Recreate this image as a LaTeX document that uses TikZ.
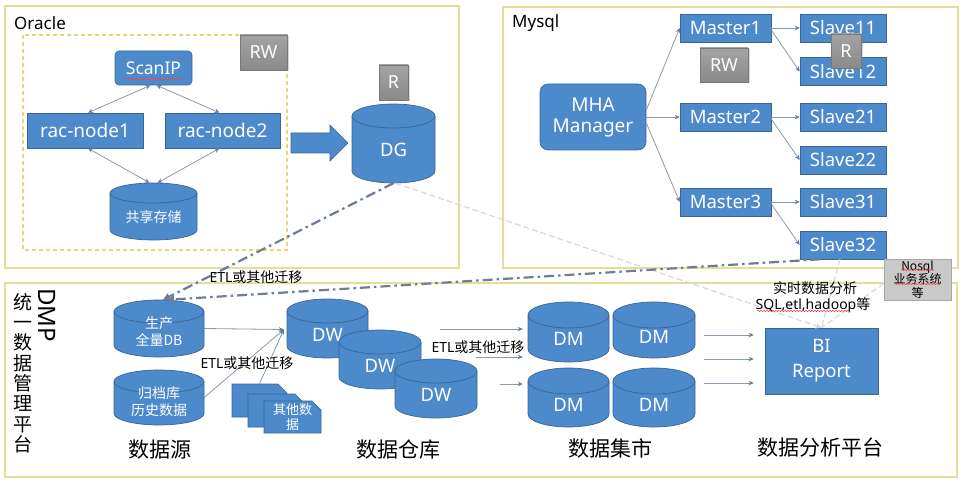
\documentclass[tikz,border=0pt]{standalone}
\usepackage{fontspec}
\setmainfont{Noto Sans}
\newfontfamily\zh{Noto Sans CJK SC}
\usetikzlibrary{arrows.meta,shadows,decorations.pathmorphing}
\definecolor{bfill}{RGB}{76,138,204}
\definecolor{bborder}{RGB}{58,102,150}
\definecolor{frameY}{RGB}{228,222,150}
\definecolor{dashY}{RGB}{232,214,110}
\definecolor{connC}{RGB}{140,152,172}
\definecolor{tipC}{RGB}{95,125,165}
\definecolor{ddC}{RGB}{110,125,150}
\definecolor{paleC}{RGB}{212,216,224}
\newcommand{\dbcyl}[8][]{%
\pgfmathsetmacro\cCX{(#3+#5)/2}%
\pgfmathsetmacro\cCY{(#4+#6)/2}%
\pgfmathsetmacro\cW{#5-#3}%
\pgfmathsetmacro\cH{#6-#4}%
\pgfmathsetmacro\cKX{0.5523*(#5-#3)/2}%
\pgfmathsetmacro\cKY{0.5523*#7}%
\pgfmathsetmacro\cTY{#4+#7}%
\pgfmathsetmacro\cBY{#6-#7}%
\pgfmathsetmacro\cLY{#4+2*#7}%
\pgfmathsetmacro\cTXY{(#4+#6)/2+0.55*#7}%
\path[cylbody] (#3,\cTY) -- (#3,\cBY) .. controls (#3,\cBY+\cKY) and (\cCX-\cKX,#6) .. (\cCX,#6) .. controls (\cCX+\cKX,#6) and (#5,\cBY+\cKY) .. (#5,\cBY) -- (#5,\cTY) .. controls (#5,\cTY-\cKY) and (\cCX+\cKX,#4) .. (\cCX,#4) .. controls (\cCX-\cKX,#4) and (#3,\cTY-\cKY) .. (#3,\cTY) -- cycle;
\path[cyllid] (#3,\cTY) .. controls (#3,\cTY+\cKY) and (\cCX-\cKX,\cLY) .. (\cCX,\cLY) .. controls (\cCX+\cKX,\cLY) and (#5,\cTY+\cKY) .. (#5,\cTY);
\node[inner sep=0pt, minimum width=\cW pt, minimum height=\cH pt] (#2) at (\cCX,\cCY) {};
\node[cyltext,#1] (#2-t) at (\cCX,\cTXY) {#8};
}
\newcommand{\snipbox}[7][]{%
\pgfmathsetmacro\sCX{(#3+#5)/2}%
\pgfmathsetmacro\sCY{(#4+#6)/2}%
\pgfmathsetmacro\sW{#5-#3}%
\pgfmathsetmacro\sH{#6-#4}%
\path[cylbody] (#3,#4) -- (#5-9,#4) -- (#5,#4+9) -- (#5,#6) -- (#3,#6) -- cycle;
\node[cyltext, minimum width=\sW pt, minimum height=\sH pt, #1] (#2) at (\sCX,\sCY) {#7};
}
\begin{document}
\begin{tikzpicture}[x=1pt,y=-1pt,
  frame/.style={draw=frameY, line width=1.3pt},
  bluebox/.style={draw=bborder, line width=0.6pt, fill=bfill, text=white, inner sep=0pt, font=\fontsize{18.5}{22}\selectfont},
  cylbody/.style={draw=bborder, line width=0.7pt, fill=bfill},
  cyllid/.style={draw=bborder, line width=0.7pt},
  cyltext/.style={text=white, inner sep=0pt, align=center, font=\fontsize{18.5}{22}\selectfont},
  zhs/.style={font=\zh\fontsize{14}{17}\selectfont},
  graylab/.style={draw=gray!95!black, top color=gray!72, bottom color=gray!92, text=white, inner sep=0pt, font=\fontsize{18}{20}\selectfont, drop shadow={opacity=0.3, shadow xshift=1.5pt, shadow yshift=-1.5pt}},
  conn/.style={draw=connC, line width=0.8pt, -{Stealth[length=5pt,width=4.5pt,color=tipC]}},
  biconn/.style={draw=connC, line width=0.8pt, {Stealth[length=5pt,width=4.5pt,color=tipC]}-{Stealth[length=5pt,width=4.5pt,color=tipC]}},
  ddash/.style={draw=ddC, line width=2.2pt, dash pattern=on 10pt off 4pt on 2.5pt off 4pt},
  paleline/.style={draw=paleC, line width=1.2pt, dash pattern=on 6pt off 3pt},
  wavy/.style={draw=red!75, line width=0.5pt, decorate, decoration={snake, amplitude=0.7pt, segment length=3pt}},
  lab/.style={text=black, inner sep=0pt}
]
\useasboundingbox (0,0) rectangle (968,489);
\fill[white] (0,0) rectangle (968,489);

% frames
\draw[frame] (5,6) rectangle (459,268);
\draw[frame] (503,7) rectangle (958,268);
\draw[frame] (5,283) rectangle (957,477);
\draw[dashY, line width=1.1pt, dash pattern=on 4pt off 3pt] (23,35) rectangle (287,250);

\node[lab, anchor=base west, font=\fontsize{17}{20}\selectfont] (oraclelab) at (14,30) {Oracle};
\node[lab, anchor=base west, font=\fontsize{17}{20}\selectfont] (mysqllab) at (512,28) {Mysql};

% Oracle cluster
\node[bluebox, rounded corners=4pt, minimum width=77pt, minimum height=34pt, font=\fontsize{17.5}{20}\selectfont] (scan) at (153.5,68) {ScanIP};
\draw[wavy] (126,79) -- (181,79);
\node[bluebox, minimum width=116pt, minimum height=35pt, font=\fontsize{19}{22}\selectfont] (rac1) at (85,130.5) {rac-node1};
\node[bluebox, minimum width=115pt, minimum height=35pt, font=\fontsize{19}{22}\selectfont] (rac2) at (222.5,130.5) {rac-node2};
\dbcyl[zhs]{store}{110}{183}{197}{240}{10}{共享存储}
\draw[biconn] ([xshift=-3pt]scan.south) -- ([xshift=3pt]rac1.north);
\draw[biconn] ([xshift=3pt]scan.south) -- ([xshift=-3pt]rac2.north);
\draw[biconn] ([xshift=3pt]rac1.south) -- ([xshift=-4pt]store.north);
\draw[biconn] ([xshift=-3pt]rac2.south) -- ([xshift=4pt]store.north);
\node[graylab, minimum width=47pt, minimum height=35pt] (rw1) at (263.5,52.5) {RW};

% big arrow and DG
\path[fill=bfill, draw=bborder, line width=0.6pt] (291,133) -- (330,133) -- (330,125) -- (348,143) -- (330,161) -- (330,153) -- (291,153) -- cycle;
\node[graylab, minimum width=29pt, minimum height=35pt] (r1) at (393.5,82.5) {R};
\dbcyl{dg}{352}{104}{435}{183}{12}{DG}

% Mysql
\node[bluebox, rounded corners=8pt, minimum width=106pt, minimum height=66pt, align=center, font=\fontsize{19}{21}\selectfont] (mha) at (593,117) {MHA\\Manager};
\node[bluebox, minimum width=91pt, minimum height=28pt] (m1) at (725.5,28) {Master1};
\node[bluebox, minimum width=91pt, minimum height=28pt] (m2) at (725.5,117) {Master2};
\node[bluebox, minimum width=91pt, minimum height=28pt] (m3) at (725.5,202) {Master3};
\node[bluebox, minimum width=86pt, minimum height=28pt] (s11) at (843,28) {Slave11};
\node[bluebox, minimum width=86pt, minimum height=28pt] (s12) at (843,71.5) {Slave12};
\node[bluebox, minimum width=86pt, minimum height=28pt] (s21) at (843,117) {Slave21};
\node[bluebox, minimum width=86pt, minimum height=28pt] (s22) at (843,160) {Slave22};
\node[bluebox, minimum width=86pt, minimum height=28pt] (s31) at (843,202) {Slave31};
\node[bluebox, minimum width=86pt, minimum height=28pt] (s32) at (843,245) {Slave32};
\draw[conn] ([yshift=7pt]mha.east) -- (m1.west);
\draw[conn] (mha.east) -- (m2.west);
\draw[conn] ([yshift=-6pt]mha.east) -- (m3.west);
\draw[conn] (m1.east) -- (s11.west);
\draw[conn] ([yshift=-2pt]m1.east) -- (s12.west);
\draw[conn] (m2.east) -- (s21.west);
\draw[conn] ([yshift=-2pt]m2.east) -- (s22.west);
\draw[conn] (m3.east) -- (s31.west);
\draw[conn] ([yshift=-2pt]m3.east) -- (s32.west);
\node[graylab, minimum width=48pt, minimum height=34pt] (rw2) at (724,65) {RW};
\node[graylab, minimum width=30pt, minimum height=34pt] (r2) at (846,51) {R};

% DMP label
\node[lab, rotate=-90, font=\fontsize{24}{26}\selectfont] (dmp) at (47,315) {DMP};
\node[lab, align=center, anchor=north, font=\zh\fontsize{19}{20.3}\selectfont] (dmpzh) at (23,293) {统\\一\\数\\据\\管\\理\\平\\台};

% data sources
\dbcyl[zhs, yshift=3pt]{prod}{114}{300}{204}{357}{11.5}{生产\\全量DB}
\dbcyl[zhs, yshift=2pt]{arch}{114}{370}{204}{425}{11.5}{归档库\\历史数据}
\snipbox{b1}{232}{384}{287}{417}{}
\snipbox{b2}{248}{394}{304}{427}{}
\snipbox[font=\zh\fontsize{13}{15}\selectfont]{b3}{264}{401}{321}{433}{其他数\\据}

% DW
\dbcyl{dw1}{287}{299}{368}{358}{12}{DW}
\dbcyl{dw2}{339}{330}{421}{389}{12}{DW}
\dbcyl{dw3}{395}{359}{477}{418}{12}{DW}
\coordinate (dwin) at ([xshift=-3pt,yshift=-1pt]dw1.west);
\draw[conn] (prod.east) -- (dwin);
\draw[conn] (arch.east) -- (dwin);
\draw[conn] (b1.north) -- (dwin);

% DM
\dbcyl{dm1}{528}{302}{609}{362}{13}{DM}
\dbcyl{dm2}{613}{302}{695}{358}{13}{DM}
\dbcyl{dm3}{528}{368}{609}{427}{13}{DM}
\dbcyl{dm4}{613}{368}{695}{427}{13}{DM}
\coordinate (a1) at (440,329);
\coordinate (a2) at (476,357);
\coordinate (a3) at (500,384);
\draw[conn] (a1) -- ([xshift=-5pt]a1 -| dm1.west);
\draw[conn] (a2) -- ([xshift=-5pt]a2 -| dm1.west);
\draw[conn] (a3) -- ([xshift=-5pt]a3 -| dm3.west);

% BI
\node[bluebox, minimum width=113pt, minimum height=66pt, align=center, font=\fontsize{18.5}{25}\selectfont] (bi) at (821.5,361) {BI\\Report};
\coordinate (c1) at (704,335);
\coordinate (c2) at (704,359);
\coordinate (c3) at (704,383);
\draw[conn] (c1) -- ([xshift=-11pt]c1 -| bi.west);
\draw[conn] (c2) -- ([xshift=-11pt]c2 -| bi.west);
\draw[conn] (c3) -- ([xshift=-11pt]c3 -| bi.west);

% Nosql
\node[draw=gray!70, fill=gray!42, inner sep=0pt, minimum width=67pt, minimum height=41pt, align=center, font=\zh\fontsize{12}{13.5}\selectfont] (nosql) at (917.5,279.5) {Nosql\\业务系统\\等};
\draw[wavy] (901,270) -- (934,270);
\draw[wavy] (894,284) -- (940,284);

% pale lines to BI
\draw[paleline, -{Stealth[length=6pt,width=6pt,color=paleC]}] ([xshift=2pt]dg.south) -- (bi.north);
\draw[paleline] ([xshift=-3pt]s32.south) -- (bi.north);
\draw[paleline] ([yshift=-4pt]nosql.west) -- (bi.north);

% dash-dot migration lines
\draw[ddash, -{Triangle[length=7pt,width=7pt,color=ddC]}] (dg.south) -- ([xshift=4pt]prod.north);
\draw[ddash, -{Triangle[length=7pt,width=7pt,color=ddC]}] ([xshift=-23pt]s32.south) -- ([xshift=8pt]prod.north);

% labels
\node[lab, font=\fontsize{14}{16}\selectfont] (etl1) at (256,277) {ETL\zh 或其他迁移};
\node[lab, font=\fontsize{14}{16}\selectfont] (etl2) at (247,363) {ETL\zh 或其他迁移};
\node[lab, font=\fontsize{14}{16}\selectfont] (etl3) at (478,347) {ETL\zh 或其他迁移};
\node[lab, font=\zh\fontsize{14}{16}\selectfont] (rt1) at (815,288) {实时数据分析};
\node[lab, font=\fontsize{14}{16}\selectfont] (rt2) at (813,305) {SQL,etl,hadoop\zh 等};
\draw[wavy] (757,311) -- (850,311);

\node[lab, font=\zh\fontsize{21}{24}\selectfont] (l1) at (160,450) {数据源};
\node[lab, font=\zh\fontsize{21}{24}\selectfont] (l2) at (398,450) {数据仓库};
\node[lab, font=\zh\fontsize{21}{24}\selectfont] (l3) at (610,448) {数据集市};
\node[lab, font=\zh\fontsize{21}{24}\selectfont] (l4) at (820,448) {数据分析平台};
\end{tikzpicture}
\end{document}
